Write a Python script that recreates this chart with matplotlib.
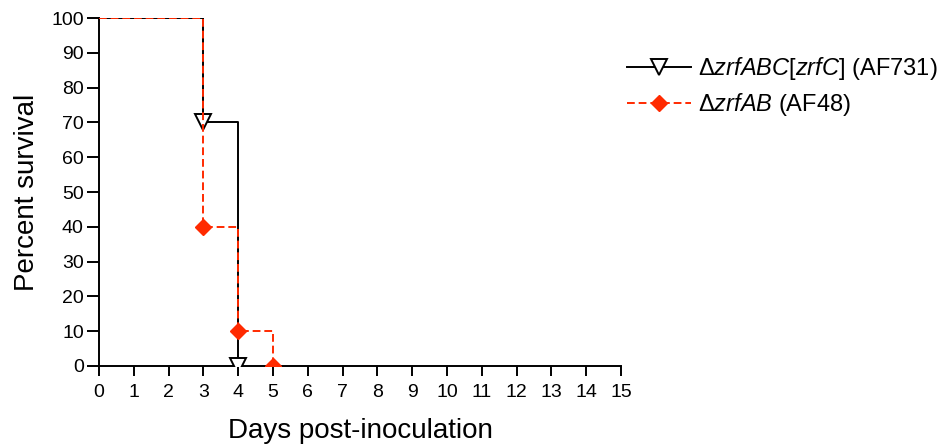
import matplotlib.pyplot as plt
from matplotlib.lines import Line2D

plt.rcParams['font.family'] = ['Liberation Sans', 'DejaVu Sans']
plt.rcParams['mathtext.fontset'] = 'custom'
plt.rcParams['mathtext.rm'] = 'Liberation Sans'
plt.rcParams['mathtext.it'] = 'Liberation Sans:italic'
plt.rcParams['mathtext.bf'] = 'Liberation Sans:bold'

# survival data (percent), event days
days_abc = [0, 3, 4]
surv_abc = [100, 70, 0]
days_ab = [0, 3, 4, 5]
surv_ab = [100, 40, 10, 0]

label_abc = r'$\Delta\it{zrfABC}$[$\it{zrfC}$] (AF731)'
label_ab = r'$\Delta\it{zrfAB}$ (AF48)'

red = '#ff2a00'

fig = plt.figure(figsize=(9.45, 4.46), dpi=100)
ax = fig.add_axes([0.1048, 0.1794, 0.5524, 0.7802])

# black curve
ax.step(days_abc, surv_abc, where='post', color='black', lw=1.4, zorder=2)
ax.plot(days_abc[1:], surv_abc[1:], ls='none', marker='v', ms=11,
        mfc='white', mec='black', mew=1.4, zorder=3)

# red curve
ax.step(days_ab, surv_ab, where='post', color=red, lw=1.4, ls=(0, (4, 2)), zorder=4)
ax.plot(days_ab[1:], surv_ab[1:], ls='none', marker='D', ms=8,
        mfc=red, mec=red, zorder=5)

ax.set_xlim(0, 15)
ax.set_ylim(0, 100)
ax.set_xticks(range(0, 16))
ax.set_yticks(range(0, 101, 10))
ax.spines['top'].set_visible(False)
ax.spines['right'].set_visible(False)
for s in ['left', 'bottom']:
    ax.spines[s].set_linewidth(1.4)
    ax.spines[s].set_zorder(1)
ax.tick_params(direction='out', width=1.4, labelsize=14)
ax.tick_params(axis='x', length=7, pad=6)
ax.tick_params(axis='y', length=9, pad=2)
ax.set_xlabel('Days post-inoculation', fontsize=20, labelpad=12)
ax.set_ylabel('Percent survival', fontsize=20, labelpad=8)

handles = [
    Line2D([], [], color='black', lw=1.4, marker='v', ms=11, mfc='white', mec='black', mew=1.4),
    Line2D([], [], color=red, lw=1.4, ls=(0, (4, 2)), marker='D', ms=8, mfc=red, mec=red),
]
fig.legend(handles, [label_abc, label_ab], loc='upper left',
           bbox_to_anchor=(0.6635, 0.877), frameon=False, fontsize=17,
           borderpad=0, borderaxespad=0,
           handlelength=2.7, handletextpad=0.3, labelspacing=0.4)

fig.savefig('out.png', dpi=100)
